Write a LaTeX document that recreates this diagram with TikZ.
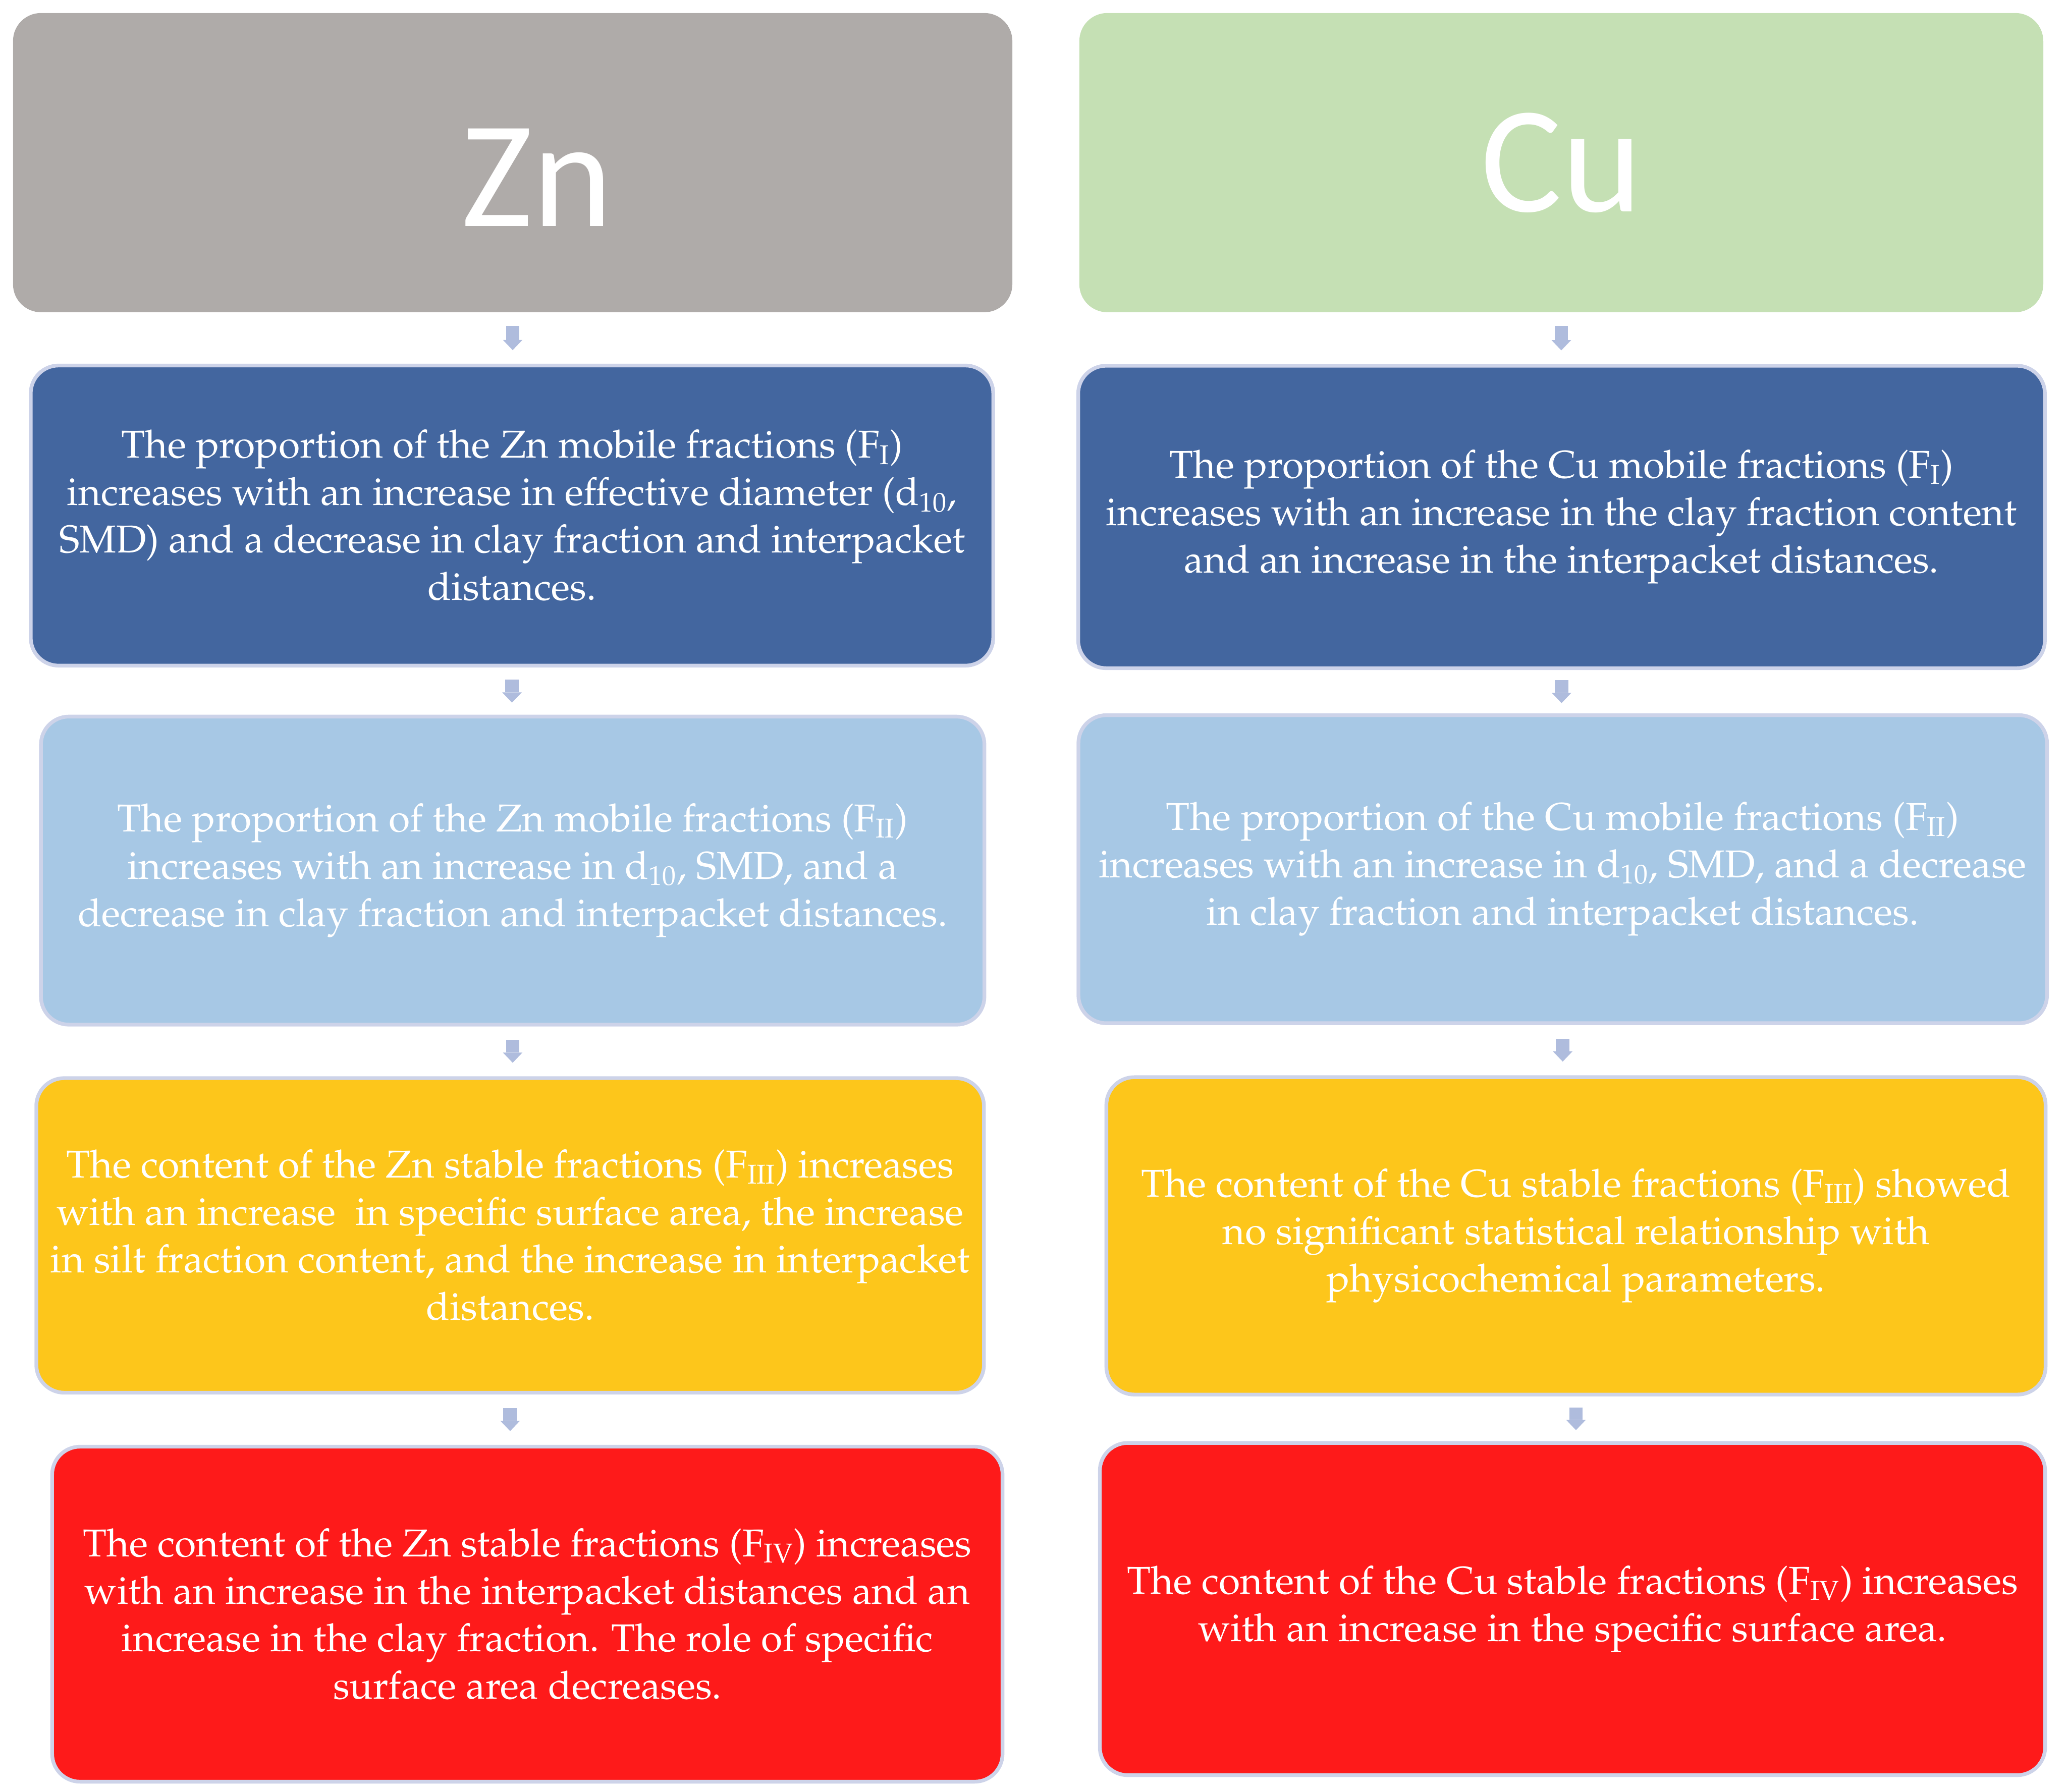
\documentclass[tikz,border=0pt]{standalone}
\usepackage[T1]{fontenc}
\usepackage{fontspec}
\usetikzlibrary{arrows.meta}

\newfontfamily\headfont{Carlito}
\newcommand\cardfont{\fontencoding{T1}\fontfamily{ppl}\fontsize{23.75}{29}\selectfont}

\definecolor{zngray}{HTML}{AFABA9}
\definecolor{cugreen}{HTML}{C5E0B4}
\definecolor{darkblue}{HTML}{43669F}
\definecolor{lightblue}{HTML}{A7C8E5}
\definecolor{ambery}{HTML}{FDC61B}
\definecolor{brightred}{HTML}{FE1A1A}
\definecolor{edgeblue}{HTML}{CDD3E9}
\definecolor{arrowblue}{HTML}{AFBCDD}

\tikzset{
  box/.style={rounded corners=0.6cm, align=center, text=white, inner sep=0pt},
  head/.style={box, font=\headfont\fontsize{93}{93}\selectfont},
  card/.style={box, draw=edgeblue, line width=0.08cm, font=\cardfont},
  flow/.style={arrowblue, line width=0.29cm,
    -{Triangle[width=0.42cm, length=0.22cm, line width=0pt]}}
}

\begin{document}
\begin{tikzpicture}
  \fill[white] (0,0) rectangle (44.41,-38.51);
  \useasboundingbox (0,0) rectangle (44.41,-38.51);

  % Zn column
  \node[head, fill=zngray, minimum width=21.47cm, minimum height=6.43cm, text height=2.74cm] (zn) at (11.015,-3.495) {\hspace*{1.04cm}Zn};
  \node[card, fill=darkblue, minimum width=20.68cm, minimum height=6.45cm] (zn1) at (11.0,-11.08)
    {The proportion of the Zn mobile fractions (F\textsubscript{I})\\
     increases with an increase in effective diameter (d\textsubscript{10},\\
     SMD) and a decrease in clay fraction and interpacket\\
     distances.};
  \node[card, fill=lightblue, minimum width=20.27cm, minimum height=6.62cm] (zn2) at (11.015,-18.71)
    {The proportion of the Zn mobile fractions (F\textsubscript{II})\\
     increases with an increase in d\textsubscript{10}, SMD, and a\\
     decrease in clay fraction and interpacket distances.};
  \node[card, fill=ambery, minimum width=20.36cm, minimum height=6.76cm] (zn3) at (10.96,-26.55)
    {The content of the Zn stable fractions (F\textsubscript{III}) increases\\
     with an increase\ \ in specific surface area, the increase\\
     in silt fraction content, and the increase in interpacket\\
     distances.};
  \node[card, fill=brightred, minimum width=20.42cm, minimum height=7.2cm] (zn4) at (11.33,-34.69)
    {The content of the Zn stable fractions (F\textsubscript{IV}) increases\\
     with an increase in the interpacket distances and an\\
     increase in the clay fraction. The role of specific\\
     surface area decreases.};

  % Cu column
  \node[head, fill=cugreen, minimum width=20.71cm, minimum height=6.43cm] (cu) at (33.545,-3.495) {Cu};
  \node[card, fill=darkblue, minimum width=20.77cm, minimum height=6.5cm] (cu1) at (33.55,-11.11)
    {The proportion of the Cu mobile fractions (F\textsubscript{I})\\
     increases with an increase in the clay fraction content\\
     and an increase in the interpacket distances.};
  \node[card, fill=lightblue, minimum width=20.81cm, minimum height=6.62cm] (cu2) at (33.575,-18.68)
    {The proportion of the Cu mobile fractions (F\textsubscript{II})\\
     increases with an increase in d\textsubscript{10}, SMD, and a decrease\\
     in clay fraction and interpacket distances.};
  \node[card, fill=ambery, minimum width=20.18cm, minimum height=6.82cm] (cu3) at (33.86,-26.56)
    {The content of the Cu stable fractions (F\textsubscript{III}) showed\\
     no significant statistical relationship with\\
     physicochemical parameters.};
  \node[card, fill=brightred, minimum width=20.31cm, minimum height=7.14cm] (cu4) at (33.785,-34.58)
    {The content of the Cu stable fractions (F\textsubscript{IV}) increases\\
     with an increase in the specific surface area.};

  % arrows between the boxes
  \foreach \a/\b/\s in {zn/zn1/0.29cm, zn1/zn2/0.26cm, zn2/zn3/0.29cm, zn3/zn4/0.295cm,
                        cu/cu1/0.29cm, cu1/cu2/0.22cm, cu2/cu3/0.295cm, cu3/cu4/0.235cm}
    \draw[flow, shorten <=\s, shorten >=\s] (\a.south) -- (\a.south |- \b.north);
\end{tikzpicture}
\end{document}
